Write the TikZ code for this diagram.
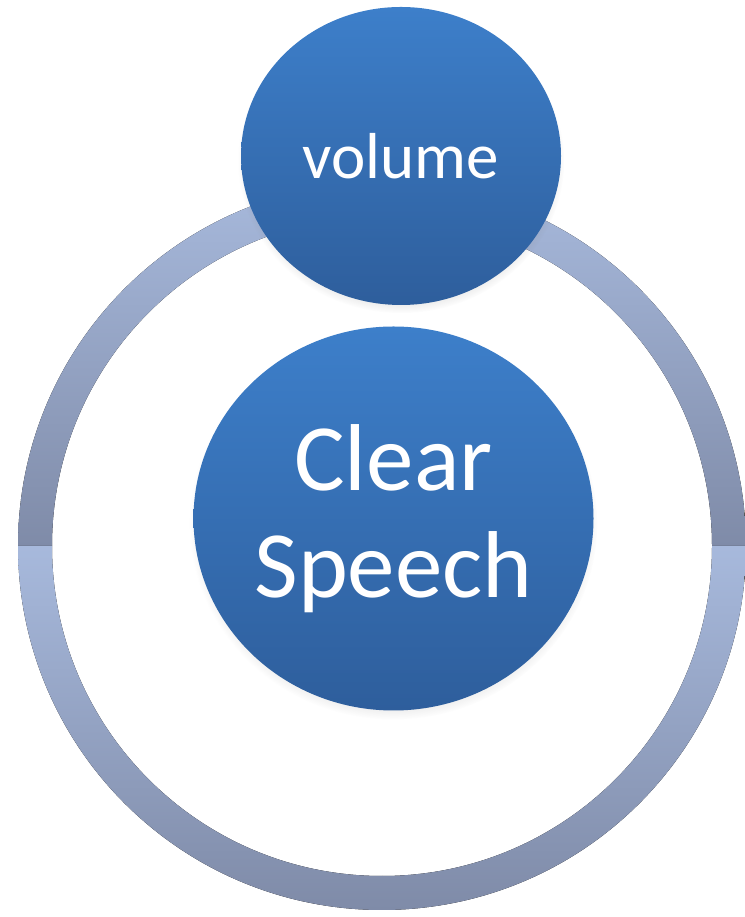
\documentclass[tikz,border=0pt]{standalone}
\usepackage{fontspec}
\setmainfont{Carlito}
\usetikzlibrary{shapes.geometric,shadows,fadings}
\definecolor{bubTop}{RGB}{61,127,202}
\definecolor{bubBot}{RGB}{46,94,156}
\definecolor{ringLight}{RGB}{167,185,220}
\definecolor{ringDark}{RGB}{127,139,168}
\begin{document}
\begin{tikzpicture}[x=1pt,y=1pt,
  bubble/.style={ellipse, inner sep=0pt, top color=bubTop, bottom color=bubBot,
    text=white, circular drop shadow={shadow xshift=0pt, shadow yshift=-5pt,
    shadow scale=1.02, opacity=0.35}},
  seg/.style={top color=ringLight, bottom color=ringDark}]
\useasboundingbox (0,0) rectangle (744,917);
\coordinate (rc) at (382,371);
% ring quarters
\fill[seg] ([shift={(90:364pt)}]rc) arc[start angle=90,end angle=180,radius=364pt]
  -- ([shift={(180:330pt)}]rc) arc[start angle=180,end angle=90,radius=330pt] -- cycle;
\fill[seg] ([shift={(0:364pt)}]rc) arc[start angle=0,end angle=90,radius=364pt]
  -- ([shift={(90:330pt)}]rc) arc[start angle=90,end angle=0,radius=330pt] -- cycle;
\fill[seg] ([shift={(180:364pt)}]rc) arc[start angle=180,end angle=270,radius=364pt]
  -- ([shift={(270:330pt)}]rc) arc[start angle=270,end angle=180,radius=330pt] -- cycle;
\fill[seg] ([shift={(270:364pt)}]rc) arc[start angle=270,end angle=360,radius=364pt]
  -- ([shift={(0:330pt)}]rc) arc[start angle=360,end angle=270,radius=330pt] -- cycle;
% bubbles
\node[bubble, minimum width=320pt, minimum height=298pt,
  font=\fontsize{65}{78}\selectfont] (vol) at (401,761) {volume};
\node[bubble, minimum width=400pt, minimum height=384pt, align=center,
  font=\fontsize{95}{106}\selectfont] (cs) at (393.5,398.5) {\raisebox{0pt}{Clear}\\[1pt]Speech};
\end{tikzpicture}
\end{document}
